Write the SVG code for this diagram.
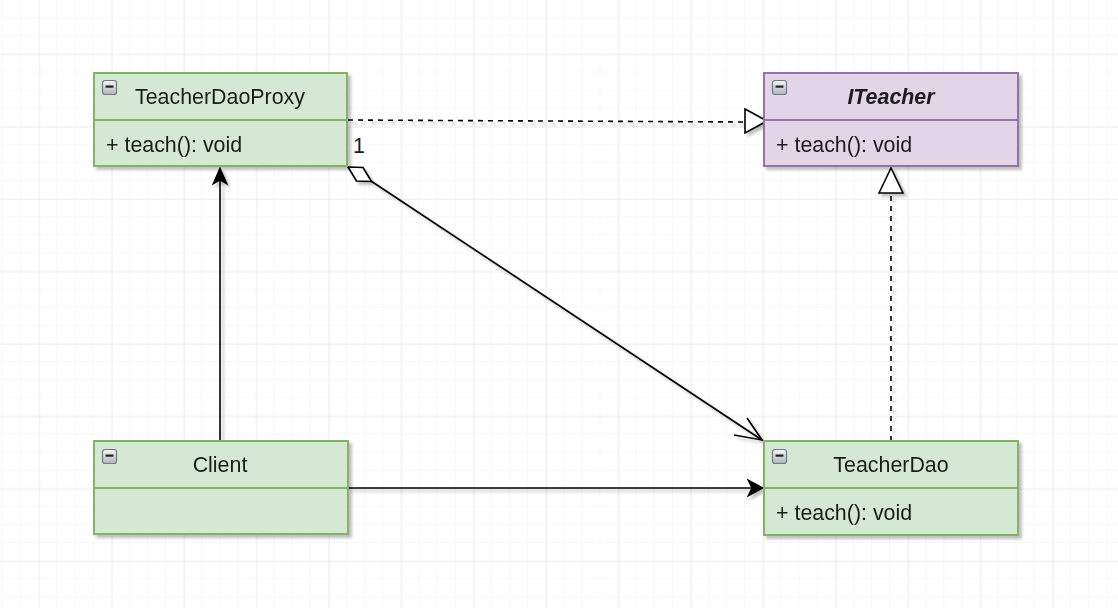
<svg xmlns="http://www.w3.org/2000/svg" width="1118" height="608" viewBox="0 0 1118 608">
  <defs>
    <pattern id="minor" patternUnits="userSpaceOnUse" x="3.1" y="0" width="18.1" height="18.1">
      <path d="M18.1 0 V18.1 M0 18.1 H18.1" fill="none" stroke="#f1f1f1" stroke-width="1"/>
    </pattern>
    <pattern id="major" patternUnits="userSpaceOnUse" x="39.3" y="54.3" width="72.4" height="72.4">
      <path d="M0 0 V72.4 M0 0 H72.4" fill="none" stroke="#e3e3e3" stroke-width="1"/>
    </pattern>
    <filter id="shadow" x="-10%" y="-10%" width="130%" height="140%">
      <feGaussianBlur in="SourceAlpha" stdDeviation="1.8"/>
      <feOffset dx="3" dy="3" result="b"/>
      <feComponentTransfer><feFuncA type="linear" slope="0.25"/></feComponentTransfer>
      <feMerge><feMergeNode/><feMergeNode in="SourceGraphic"/></feMerge>
    </filter>
    <linearGradient id="iconGrad" x1="0" y1="0" x2="0" y2="1">
      <stop offset="0" stop-color="#f6f6f6"/>
      <stop offset="1" stop-color="#aeb5be"/>
    </linearGradient>
    <g id="minus">
      <rect x="0.5" y="0.5" width="14" height="14" rx="2.5" fill="url(#iconGrad)" stroke="#6f7a86" stroke-width="1.2"/>
      <rect x="3.5" y="5.5" width="8" height="2.2" fill="#222"/>
    </g>
  </defs>
  <style>
    .t { font-family: "Liberation Sans", Arial, sans-serif; font-size: 21.4px; fill: #1a1a1a; }
    .c { text-anchor: middle; }
    .bi { font-weight: bold; font-style: italic; }
    .green { fill: #d5e8d4; stroke: #82b366; stroke-width: 2; }
    .purple { fill: #e1d5e7; stroke: #9673a6; stroke-width: 2; }
    .edge { fill: none; stroke: #000; stroke-width: 1.6; }
    .dash { stroke-dasharray: 5 5; }
    .hollow { fill: #fff; stroke: #000; stroke-width: 1.6; }
    .solid { fill: #000; stroke: #000; stroke-width: 1.2; }
  </style>
  <rect width="1118" height="608" fill="#fff"/>
  <rect width="1118" height="608" fill="url(#minor)"/>
  <rect width="1118" height="608" fill="url(#major)"/>

  <g id="connectors">
    <g filter="url(#shadow)">
      <path class="edge dash" d="M348 120 L745 122"/>
      <path class="hollow" d="M745 109 L767 121 L745 133 Z"/>
    </g>
    <g filter="url(#shadow)">
      <path class="edge dash" d="M891 441 L891 193"/>
      <path class="hollow" d="M879 193 L891 168 L903 193 Z"/>
    </g>
    <g filter="url(#shadow)">
      <path class="edge" d="M371 181 L762 440"/>
      <path class="hollow" d="M348 167 L363 167.5 L371.5 181.5 L356.5 181 Z"/>
      <path class="edge" d="M734 435 L762 440 L747 418"/>
    </g>
    <g filter="url(#shadow)">
      <path class="edge" d="M220 441 L220 178"/>
      <path class="solid" d="M220 168 L227 184 L220 180 L213 184 Z"/>
    </g>
    <g filter="url(#shadow)">
      <path class="edge" d="M348 488 L752 488"/>
      <path class="solid" d="M763 488 L748 496 L752 488 L748 480 Z"/>
    </g>
    <rect x="351" y="133" width="16" height="25" fill="#fff"/>
    <text class="t" x="353" y="153">1</text>
  </g>

  <g id="TeacherDaoProxy" filter="url(#shadow)">
    <rect class="green" x="94" y="73" width="253" height="93"/>
    <line class="green" x1="94" y1="120" x2="347" y2="120"/>
    <use href="#minus" x="102" y="80"/>
    <text class="t c" x="220" y="104">TeacherDaoProxy</text>
    <text class="t" x="106" y="152">+ teach(): void</text>
  </g>

  <g id="ITeacher" filter="url(#shadow)">
    <rect class="purple" x="764" y="73" width="254" height="93"/>
    <line class="purple" x1="764" y1="120" x2="1018" y2="120"/>
    <use href="#minus" x="772" y="80"/>
    <text class="t c bi" x="891" y="104">ITeacher</text>
    <text class="t" x="776" y="152">+ teach(): void</text>
  </g>

  <g id="Client" filter="url(#shadow)">
    <rect class="green" x="94" y="441" width="254" height="93"/>
    <line class="green" x1="94" y1="488" x2="348" y2="488"/>
    <use href="#minus" x="102" y="449"/>
    <text class="t c" x="220" y="472">Client</text>
  </g>

  <g id="TeacherDao" filter="url(#shadow)">
    <rect class="green" x="764" y="441" width="254" height="94"/>
    <line class="green" x1="764" y1="488" x2="1018" y2="488"/>
    <use href="#minus" x="772" y="449"/>
    <text class="t c" x="891" y="472">TeacherDao</text>
    <text class="t" x="776" y="520">+ teach(): void</text>
  </g>
</svg>
